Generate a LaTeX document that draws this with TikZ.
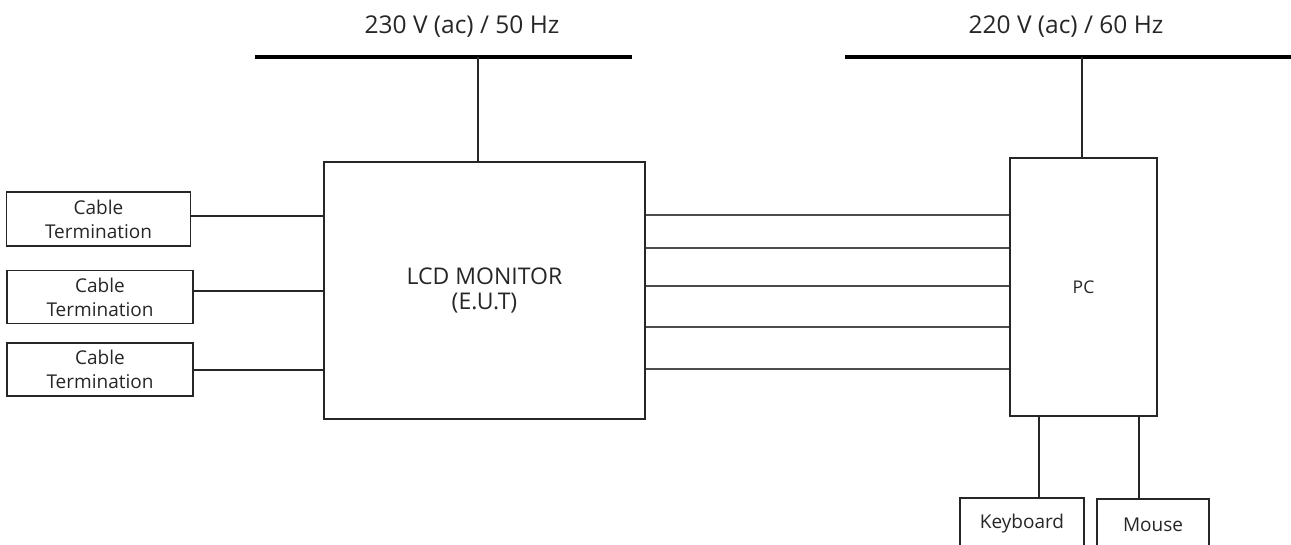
\documentclass[tikz,border=0pt]{standalone}
\usepackage{fontspec}
\setmainfont{Open Sans}
\begin{document}
\begin{tikzpicture}[x=1pt,y=-1pt,
  txt/.style={text=black!85, inner sep=0pt, font=\fontsize{#1}{#1}\selectfont, align=center},
  txt/.default=17,
  boxa/.style={draw=black!85, line width=1.2pt, inner sep=0pt, align=center, text=black!85},
  bus/.style={line width=4pt, black},
  wire/.style={line width=1.3pt, black!85},
  link/.style={line width=1.5pt, black!70}]
\useasboundingbox (0,0) rectangle (1291,544);
% power buses
\coordinate (b1w) at (255,57);
\coordinate (b1e) at (632,57);
\coordinate (b1t) at (478,57);
\coordinate (b2w) at (845,57);
\coordinate (b2e) at (1293,57);
\coordinate (b2t) at (1082,57);
\draw[bus] (b1w) -- (b1e);
\draw[bus] (b2w) -- (b2e);
\node[txt=24.5] (v1) at (462,27) {230 V (ac) / 50 Hz};
\node[txt=24.5] (v2) at (1066,27) {220 V (ac) / 60 Hz};
% monitor
\node[boxa, line width=2.4pt, minimum width=321pt, minimum height=257pt,
  font=\fontsize{23}{25}\selectfont] (mon) at (484.5,290.5) {LCD MONITOR\\(E.U.T)};
% PC
\node[boxa, minimum width=147pt, minimum height=258pt,
  font=\fontsize{17.5}{18}\selectfont] (pc) at (1083.5,287) {PC};
% cable terminations
\node[boxa, minimum width=184pt, minimum height=54pt,
  font=\fontsize{19}{24}\selectfont] (ct1) at (98.5,219) {Cable\\Termination};
\node[boxa, minimum width=186pt, minimum height=53pt,
  font=\fontsize{19}{24}\selectfont] (ct2) at (100,297) {Cable\\Termination};
\node[boxa, minimum width=186pt, minimum height=53pt,
  font=\fontsize{19}{24}\selectfont] (ct3) at (100,369.5) {Cable\\Termination};
% keyboard, mouse
\node[boxa, minimum width=124pt, minimum height=52pt,
  font=\fontsize{19}{20}\selectfont] (kb) at (1022,524) {Keyboard};
\node[boxa, minimum width=112pt, minimum height=52pt,
  font=\fontsize{19}{20}\selectfont] (ms) at (1153,525) {Mouse};
% power drops
\draw[wire, line width=2pt] (b1t) -- (b1t |- mon.north);
\draw[wire, line width=2pt] (b2t) -- (b2t |- pc.north);
% cable termination links
\draw[wire] (ct1.east |- 0,216) -- (mon.west |- 0,216);
\draw[wire] (ct2.east |- 0,291) -- (mon.west |- 0,291);
\draw[wire] (ct3.east |- 0,370) -- (mon.west |- 0,370);
% monitor to PC
\foreach \yy in {215,248,286,327,369}
  \draw[link] (mon.east |- 0,\yy) -- (pc.west |- 0,\yy);
% PC to peripherals
\draw[wire] (pc.south -| 1039,0) -- (kb.north -| 1039,0);
\draw[wire] (pc.south -| 1139,0) -- (ms.north -| 1139,0);
\end{tikzpicture}
\end{document}
